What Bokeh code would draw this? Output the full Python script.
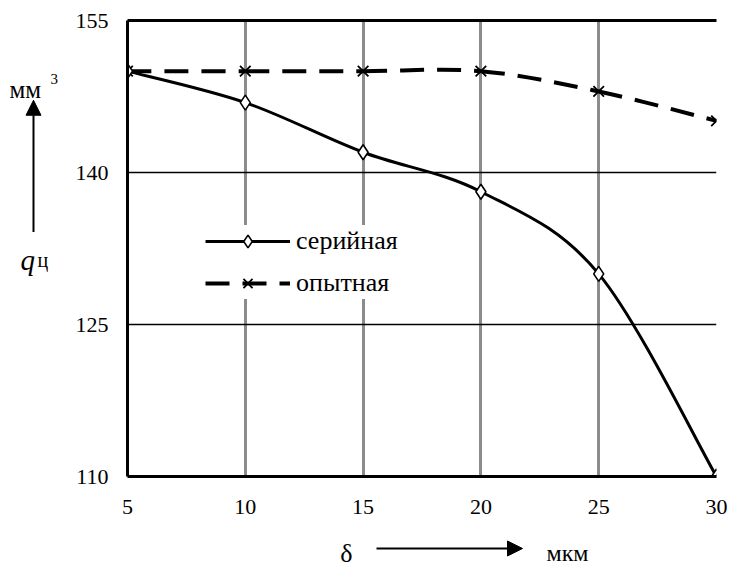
from bokeh.plotting import figure
from bokeh.layouts import row, column
from bokeh.models import (Range1d, FixedTicker, LinearAxis, Legend, LegendItem,
                          Label, Arrow, NormalHead, ColumnDataSource)
from bokeh.embed import file_html
from bokeh.resources import INLINE

# ---- data ----
delta = [5, 10, 15, 20, 25, 30]
serial = [150.0, 146.9, 142.0, 138.1, 130.0, 110.0]
experimental = [150.0, 150.0, 150.0, 150.0, 148.0, 145.1]
x_ticks = [5, 10, 15, 20, 25, 30]
y_ticks = [110, 125, 140, 155]
series_names = ["серийная", "опытная"]

FONT = "'Liberation Serif', 'Times New Roman', serif"

# layout sizes (pixels)
LEFT_W = 72
MAIN_TOP, FRAME_W, FRAME_H, MAIN_BOTTOM, MAIN_LEFT, MAIN_RIGHT = 20, 589, 456, 50, 54, 12
MAIN_H = MAIN_TOP + FRAME_H + MAIN_BOTTOM
BOTTOM_H = 562 - MAIN_H
TOTAL_W = LEFT_W + MAIN_LEFT + FRAME_W + MAIN_RIGHT


def smooth_segments(xs, ys):
    """Cubic Bezier segments (Catmull-Rom style smoothing, as in spreadsheet charts)."""
    n = len(xs)
    d = dict(x0=[], y0=[], x1=[], y1=[], cx0=[], cy0=[], cx1=[], cy1=[])
    for i in range(n - 1):
        p0 = (xs[max(i - 1, 0)], ys[max(i - 1, 0)])
        p1 = (xs[i], ys[i])
        p2 = (xs[i + 1], ys[i + 1])
        p3 = (xs[min(i + 2, n - 1)], ys[min(i + 2, n - 1)])
        d["x0"].append(p1[0]); d["y0"].append(p1[1])
        d["x1"].append(p2[0]); d["y1"].append(p2[1])
        d["cx0"].append(p1[0] + (p2[0] - p0[0]) / 6.0)
        d["cy0"].append(p1[1] + (p2[1] - p0[1]) / 6.0)
        d["cx1"].append(p2[0] - (p3[0] - p1[0]) / 6.0)
        d["cy1"].append(p2[1] - (p3[1] - p1[1]) / 6.0)
    return ColumnDataSource(d)


# ---------------- main chart ----------------
p = figure(frame_width=FRAME_W, frame_height=FRAME_H,
           min_border_left=MAIN_LEFT, min_border_right=MAIN_RIGHT,
           min_border_top=MAIN_TOP, min_border_bottom=MAIN_BOTTOM,
           x_range=Range1d(x_ticks[0], x_ticks[-1]),
           y_range=Range1d(y_ticks[0], y_ticks[-1]),
           output_backend="svg", toolbar_location=None,
           background_fill_color="white", border_fill_color="white")
p.outline_line_color = None

for ax in (p.xaxis[0], p.yaxis[0]):
    ax.axis_line_width = 3
    ax.axis_line_color = "black"
    ax.major_tick_line_color = None
    ax.minor_tick_line_color = None
    ax.major_tick_out = 0
    ax.major_tick_in = 0
    ax.minor_tick_out = 0
    ax.major_label_text_font = FONT
    ax.major_label_text_font_size = "22px"
    ax.major_label_text_color = "black"
p.xaxis.ticker = FixedTicker(ticks=x_ticks)
p.yaxis.ticker = FixedTicker(ticks=y_ticks)
p.xaxis.major_label_standoff = 23
p.yaxis.major_label_standoff = 19

top_axis = LinearAxis(ticker=FixedTicker(ticks=[]), axis_line_width=3,
                      axis_line_color="black", major_tick_out=0, major_tick_in=0,
                      major_tick_line_color=None, minor_tick_line_color=None,
                      major_label_text_font_size="0px", major_label_standoff=0)
p.add_layout(top_axis, "above")

p.xgrid.ticker = FixedTicker(ticks=x_ticks[1:])
p.xgrid.grid_line_color = "#8c8c8c"
p.xgrid.grid_line_width = 3
p.ygrid.ticker = FixedTicker(ticks=y_ticks[1:-1])
p.ygrid.grid_line_color = "black"
p.ygrid.grid_line_width = 1.5

src_s = smooth_segments(delta, serial)
src_e = smooth_segments(delta, experimental)

r_e_line = p.bezier(x0="x0", y0="y0", x1="x1", y1="y1", cx0="cx0", cy0="cy0",
                    cx1="cx1", cy1="cy1", source=src_e, line_color="black",
                    line_width=4, line_dash="24 13")
r_e_pts = p.scatter(delta, experimental, marker="x", size=15, line_color="black",
                    line_width=1.8)

r_s_line = p.bezier(x0="x0", y0="y0", x1="x1", y1="y1", cx0="cx0", cy0="cy0",
                    cx1="cx1", cy1="cy1", source=src_s, line_color="black",
                    line_width=3)
r_s_pts = p.scatter(delta, serial, marker="diamond", size=15,
                    fill_color="white", line_color="black", line_width=1.6)

legend = Legend(items=[LegendItem(label=series_names[0], renderers=[r_s_line, r_s_pts]),
                       LegendItem(label=series_names[1], renderers=[r_e_line, r_e_pts])],
                location=(78, 177), glyph_width=85, glyph_height=32,
                label_height=32, spacing=10, padding=8, margin=0,
                label_standoff=6, label_text_font=FONT,
                label_text_font_size="26px", label_text_color="black",
                background_fill_color="white", background_fill_alpha=1.0,
                border_line_color=None)
p.add_layout(legend, "center")


# ---------------- helper panels for the axis titles ----------------
def helper(width, height):
    f = figure(width=width, height=height, x_range=Range1d(0, width),
               y_range=Range1d(0, height), x_axis_type=None, y_axis_type=None,
               min_border=0, output_backend="svg", toolbar_location=None,
               background_fill_color="white", border_fill_color="white")
    f.outline_line_color = None
    f.grid.visible = False
    return f


left = helper(LEFT_W, MAIN_H)
bottom = helper(TOTAL_W, BOTTOM_H)


def put_text(f, top_py, h, px, py, text, size, style="normal", align="left"):
    f.add_layout(Label(x=px, y=(top_py + h) - py, text=text, text_font=FONT,
                       text_font_style=style, text_font_size=size,
                       text_baseline="alphabetic", text_align=align,
                       text_color="black"))


def put_arrow(f, top_py, h, px0, py0, px1, py1):
    f.add_layout(Arrow(x_start=px0, y_start=(top_py + h) - py0,
                       x_end=px1, y_end=(top_py + h) - py1,
                       line_width=2, line_color="black",
                       end=NormalHead(size=15, fill_color="black", line_color="black")))


put_text(left, 0, MAIN_H, 9, 80, "мм", "25px")
put_text(left, 0, MAIN_H, 50, 68, "3", "15px")
put_arrow(left, 0, MAIN_H, 33, 244, 33, 92)
put_text(left, 0, MAIN_H, 20, 276, "q", "29px", style="italic")
put_text(left, 0, MAIN_H, 37, 276, "ц", "20px")

put_text(bottom, MAIN_H, BOTTOM_H, 346, 553, "δ", "26px", align="center")
put_arrow(bottom, MAIN_H, BOTTOM_H, 376, 548, 522, 548)
put_text(bottom, MAIN_H, BOTTOM_H, 546, 552, "мкм", "24px")

layout = column(row(left, p), bottom)
open("out.html", "w").write(file_html(layout, INLINE))
